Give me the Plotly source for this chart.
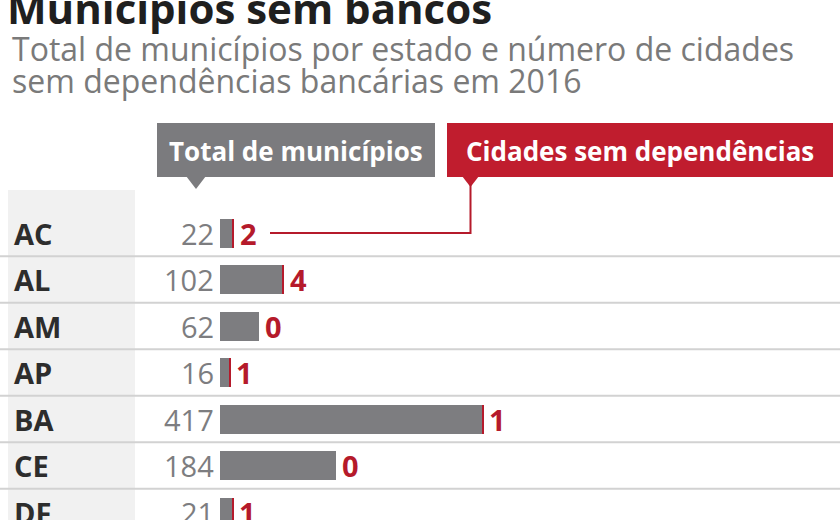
import plotly.graph_objects as go

states = ["AC", "AL", "AM", "AP", "BA", "CE", "DF"]
total_municipios = [22, 102, 62, 16, 417, 184, 21]
cidades_sem = [2, 4, 0, 1, 1, 0, 1]

title = "Municípios sem bancos"
subtitle1 = "Total de municípios por estado e número de cidades"
subtitle2 = "sem dependências bancárias em 2016"
legend_gray = "Total de municípios"
legend_red = "Cidades sem dependências"

W, H = 840, 520
GRAY = "#7d7d80"
RED = "#b51a2b"
DARK = "#2d2d2d"
SANS = "Open Sans, sans-serif"

def px(x):
    return x / W

def py(y):
    return 1 - y / H

# axis mapping: x pixel = 220 + 0.631*value ; row i center = 233 + 46.5*i
x0_px, scale = 220, 0.631
row0, step = 233, 46.5
xr = [-x0_px / scale, (W - x0_px) / scale]
yr = [(H - row0) / step, -row0 / step]

n = len(states)
idx = list(range(n))
gray_part = [t - c for t, c in zip(total_municipios, cidades_sem)]

fig = go.Figure()
fig.add_trace(go.Bar(y=idx, x=gray_part, orientation="h", marker_color=GRAY,
                     marker_line_width=0, width=29 / step, hoverinfo="skip"))
fig.add_trace(go.Bar(y=idx, x=cidades_sem, orientation="h", marker_color=RED,
                     marker_line_width=0, width=29 / step, hoverinfo="skip"))

shapes = []
# left band
shapes.append(dict(type="rect", xref="paper", yref="paper", x0=px(8), x1=px(135),
                   y0=0, y1=py(190), fillcolor="#f1f1f1", line_width=0, layer="below"))
# separators
for i in range(n - 1):
    shapes.append(dict(type="line", xref="paper", yref="y", x0=0, x1=1,
                       y0=i + 0.5, y1=i + 0.5, line=dict(color="#d2d2d2", width=2),
                       layer="below"))
# legend boxes
shapes.append(dict(type="rect", xref="paper", yref="paper", x0=px(157), x1=px(435),
                   y0=py(177), y1=py(123), fillcolor="#7b7b7e", line_width=0))
shapes.append(dict(type="rect", xref="paper", yref="paper", x0=px(447), x1=px(833),
                   y0=py(177), y1=py(123), fillcolor="#c01d2e", line_width=0))
# pointers
def tri(xa, xb, yt, yb, color):
    xm = (xa + xb) / 2
    path = f"M {px(xa)} {py(yt)} L {px(xb)} {py(yt)} L {px(xm)} {py(yb)} Z"
    return dict(type="path", xref="paper", yref="paper", path=path,
                fillcolor=color, line_width=0)
shapes.append(tri(186, 206, 176, 189, "#7b7b7e"))
shapes.append(tri(462, 479, 176, 187, "#c01d2e"))
# connector
shapes.append(dict(type="path", xref="paper", yref="paper",
                   path=f"M {px(470.5)} {py(184)} L {px(470.5)} {py(233)} L {px(270)} {py(233)}",
                   line=dict(color=RED, width=2)))

ann = []
ann.append(dict(text=f"<b>{title}</b>", xref="paper", yref="paper", x=px(5), y=py(8),
                xanchor="left", yanchor="middle", showarrow=False,
                font=dict(family=SANS, size=42, color="#1f1f1f")))
ann.append(dict(text=subtitle1, xref="paper", yref="paper", x=px(10), y=py(48),
                xanchor="left", yanchor="middle", showarrow=False,
                font=dict(family=SANS, size=32, color="#7a7a7a")))
ann.append(dict(text=subtitle2, xref="paper", yref="paper", x=px(10), y=py(80),
                xanchor="left", yanchor="middle", showarrow=False,
                font=dict(family=SANS, size=32, color="#7a7a7a")))
ann.append(dict(text=f"<b>{legend_gray}</b>", xref="paper", yref="paper", x=px(296), y=py(151),
                xanchor="center", yanchor="middle", showarrow=False,
                font=dict(family=SANS, size=26, color="white")))
ann.append(dict(text=f"<b>{legend_red}</b>", xref="paper", yref="paper", x=px(640), y=py(151),
                xanchor="center", yanchor="middle", showarrow=False,
                font=dict(family=SANS, size=26, color="white")))

for i, (s, t, c) in enumerate(zip(states, total_municipios, cidades_sem)):
    ann.append(dict(text=f"<b>{s}</b>", xref="paper", yref="y", x=px(12), y=i,
                    xanchor="left", yanchor="middle", showarrow=False,
                    font=dict(family=SANS, size=29, color=DARK)))
    ann.append(dict(text=str(t), xref="x", yref="y", x=0, y=i, xshift=-4,
                    xanchor="right", yanchor="middle", showarrow=False,
                    font=dict(family=SANS, size=29, color=GRAY)))
    ann.append(dict(text=f"<b>{c}</b>", xref="x", yref="y", x=t, y=i, xshift=4,
                    xanchor="left", yanchor="middle", showarrow=False,
                    font=dict(family=SANS, size=29, color=RED)))

fig.update_layout(
    width=W, height=H, margin=dict(l=0, r=0, t=0, b=0),
    paper_bgcolor="white", plot_bgcolor="rgba(0,0,0,0)",
    barmode="stack", showlegend=False, bargap=0,
    xaxis=dict(range=xr, visible=False, fixedrange=True),
    yaxis=dict(range=yr, visible=False, fixedrange=True),
    shapes=shapes, annotations=ann,
)

fig.write_html("out.html")
